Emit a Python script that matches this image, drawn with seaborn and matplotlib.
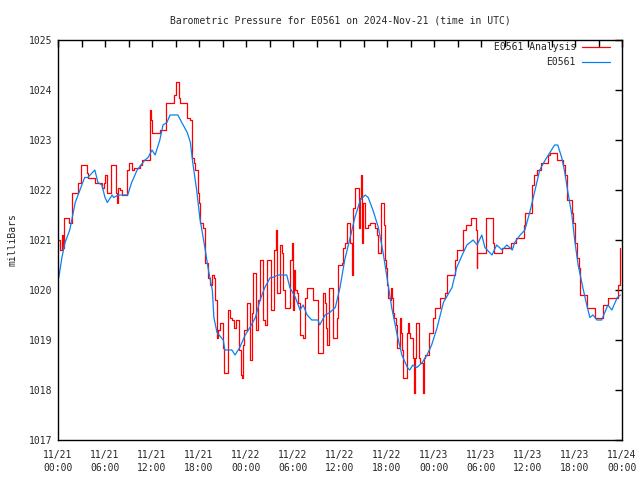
import matplotlib
matplotlib.use("Agg")
import matplotlib.pyplot as plt
import numpy as np
import pandas as pd
import seaborn as sns


TITLE = "Barometric Pressure for E0561 on 2024-Nov-21 (time in UTC)"
SERIES_NAMES = ["E0561 Analysis", "E0561"]

# hours since 2024-11-21 00:00 UTC
TICK_HOURS = [0, 6, 12, 18, 24, 30, 36, 42, 48, 54, 60, 66, 72]
TICK_LABELS = [
    "11/21\n00:00", "11/21\n06:00", "11/21\n12:00", "11/21\n18:00",
    "11/22\n00:00", "11/22\n06:00", "11/22\n12:00", "11/22\n18:00",
    "11/23\n00:00", "11/23\n06:00", "11/23\n12:00", "11/23\n18:00",
    "11/24\n00:00",
]

analysis_hours = [
    0.0, 0.2, 0.5, 0.6, 0.8, 1.2, 1.4, 1.7, 1.8, 2.4, 2.6, 2.9, 3.6, 3.7, 3.8,
    4.5, 4.7, 5.4, 5.6, 5.9, 6.0, 6.3, 6.5, 6.8, 7.3, 7.4, 7.5, 7.7, 7.9, 8.2,
    8.6, 8.8, 9.1, 9.3, 9.5, 9.7, 10.1, 10.5, 10.7, 11.5, 11.7, 11.9, 12.0,
    12.8, 13.0, 13.7, 13.8, 14.6, 14.8, 15.0, 15.3, 15.5, 15.6, 16.3, 16.5,
    16.8, 17.1, 17.3, 17.5, 17.9, 18.0, 18.1, 18.5, 18.8, 19.2, 19.4, 19.7,
    19.9, 20.0, 20.3, 20.4, 20.7, 20.9, 21.1, 21.2, 21.6, 21.7, 22.0, 22.2,
    22.5, 22.7, 23.0, 23.1, 23.4, 23.5, 23.6, 23.75, 24.0, 24.1, 24.3, 24.5,
    24.8, 24.9, 25.2, 25.3, 25.5, 25.8, 26.0, 26.2, 26.4, 26.7, 26.9, 27.2,
    27.4, 27.6, 27.8, 28.0, 28.2, 28.3, 28.6, 28.7, 29.0, 29.4, 29.6, 29.9,
    30.0, 30.1, 30.3, 30.5, 30.6, 30.9, 31.3, 31.5, 31.8, 32.4, 32.6, 33.1,
    33.2, 33.6, 33.8, 34.1, 34.2, 34.3, 34.6, 35.0, 35.1, 35.6, 35.65, 35.7,
    36.3, 36.4, 36.6, 36.9, 37.2, 37.3, 37.5, 37.7, 37.9, 38.3, 38.4, 38.5,
    38.7, 38.8, 38.9, 39.2, 39.4, 39.6, 39.8, 40.5, 40.7, 40.9, 41.1, 41.2,
    41.5, 41.6, 41.7, 41.9, 42.0, 42.1, 42.4, 42.5, 42.6, 42.8, 42.9, 43.2,
    43.3, 43.5, 43.7, 43.8, 43.9, 44.0, 44.3, 44.6, 44.7, 44.8, 44.9, 45.2,
    45.3, 45.4, 45.6, 45.7, 46.0, 46.1, 46.2, 46.5, 46.6, 46.7, 46.9, 47.2,
    47.3, 47.7, 47.9, 48.1, 48.5, 48.8, 49.2, 49.4, 49.7, 50.3, 50.7, 50.9,
    51.6, 51.7, 52.1, 52.6, 52.7, 53.2, 53.35, 53.45, 53.55, 54.5, 54.6, 55.4,
    55.5, 55.7, 56.4, 56.7, 57.7, 57.8, 58.3, 58.5, 59.35, 59.45, 59.6, 60.3,
    60.5, 60.8, 61.2, 61.7, 62.4, 62.6, 62.8, 63.4, 63.7, 64.3, 64.5, 64.7,
    65.0, 65.4, 65.6, 65.7, 66.0, 66.3, 66.5, 66.6, 67.3, 67.5, 68.3, 68.6,
    69.4, 69.6, 70.1, 70.2, 71.4, 71.5, 71.7, 71.8,
]
analysis_mb = [
    1021.0, 1020.8, 1021.1, 1020.85, 1021.45, 1021.45, 1021.35, 1021.35,
    1021.95, 1021.95, 1022.15, 1022.5, 1022.5, 1022.35, 1022.25, 1022.25,
    1022.15, 1022.15, 1022.05, 1022.15, 1022.3, 1021.95, 1021.95, 1022.5,
    1022.5, 1021.95, 1021.75, 1022.05, 1022.0, 1021.9, 1021.9, 1022.4,
    1022.55, 1022.55, 1022.4, 1022.45, 1022.45, 1022.5, 1022.6, 1022.6,
    1023.6, 1023.4, 1023.15, 1023.15, 1023.2, 1023.2, 1023.75, 1023.75,
    1023.9, 1024.15, 1024.15, 1023.85, 1023.75, 1023.75, 1023.45, 1023.4,
    1022.65, 1022.55, 1022.4, 1021.95, 1021.75, 1021.35, 1021.25, 1020.55,
    1020.25, 1020.1, 1020.3, 1020.25, 1019.8, 1019.05, 1019.2, 1019.35,
    1019.35, 1018.85, 1018.35, 1018.35, 1019.6, 1019.45, 1019.4, 1019.25,
    1019.4, 1019.4, 1018.8, 1018.3, 1018.25, 1018.9, 1019.2, 1019.2,
    1019.75, 1019.75, 1018.6, 1019.55, 1020.35, 1020.35, 1019.2, 1019.8,
    1020.6, 1020.6, 1019.4, 1019.3, 1020.6, 1020.6, 1019.6, 1019.6, 1020.8,
    1021.2, 1019.95, 1019.95, 1020.9, 1020.75, 1020.0, 1019.65, 1019.65,
    1020.6, 1020.95, 1019.6, 1020.4, 1020.0, 1019.95, 1019.75, 1019.1,
    1019.05, 1019.85, 1020.05, 1020.05, 1019.8, 1019.8, 1018.75, 1018.75,
    1019.95, 1019.75, 1019.25, 1018.9, 1020.05, 1020.05, 1019.05, 1019.05,
    1019.45, 1020.5, 1020.55, 1020.85, 1020.95, 1021.35, 1021.35, 1020.95,
    1020.3, 1021.65, 1022.05, 1022.05, 1021.25, 1021.85, 1022.3, 1020.95,
    1021.75, 1021.25, 1021.25, 1021.3, 1021.35, 1021.25, 1021.1, 1020.75,
    1020.75, 1021.75, 1021.75, 1021.3, 1020.6, 1020.45, 1020.1, 1019.85,
    1019.8, 1020.05, 1019.85, 1019.55, 1019.45, 1019.3, 1018.85, 1018.85,
    1019.45, 1019.15, 1018.8, 1018.25, 1018.25, 1019.15, 1019.35, 1019.15,
    1019.05, 1019.05, 1018.65, 1017.95, 1018.65, 1019.35, 1019.35, 1018.65,
    1018.55, 1018.55, 1017.95, 1018.65, 1018.7, 1018.7, 1019.15, 1019.15,
    1019.45, 1019.65, 1019.65, 1019.85, 1019.85, 1019.95, 1020.3, 1020.3,
    1020.6, 1020.8, 1020.8, 1021.2, 1021.3, 1021.3, 1021.45, 1021.45,
    1021.2, 1020.45, 1020.75, 1020.75, 1021.45, 1021.45, 1020.95, 1020.75,
    1020.75, 1020.85, 1020.85, 1020.95, 1020.95, 1021.05, 1021.05, 1021.3,
    1021.55, 1021.55, 1022.1, 1022.3, 1022.4, 1022.55, 1022.55, 1022.7,
    1022.75, 1022.75, 1022.6, 1022.6, 1022.5, 1022.3, 1021.8, 1021.8,
    1021.55, 1021.35, 1020.95, 1020.65, 1020.45, 1019.9, 1019.9, 1019.65,
    1019.65, 1019.45, 1019.45, 1019.7, 1019.7, 1019.85, 1019.85, 1020.1,
    1020.6, 1020.85,
]

station_hours = [
    0.1, 0.5, 0.9, 1.5, 2.2, 2.8, 3.4, 3.8, 4.1, 4.7, 5.1, 5.6, 6.0, 6.3, 6.9,
    7.1, 7.7, 8.9, 9.4, 10.1, 11.1, 11.5, 12.0, 12.4, 13.0, 13.4, 13.9, 14.3,
    15.3, 15.8, 16.5, 16.9, 17.2, 17.7, 18.1, 18.8, 19.2, 19.7, 19.9, 20.3,
    21.1, 21.3, 22.2, 22.6, 23.0, 23.2, 23.9, 24.5, 25.2, 25.8, 26.4, 27.1,
    27.4, 28.1, 29.2, 29.6, 30.3, 30.9, 31.3, 31.8, 32.4, 33.2, 33.4, 34.1,
    34.7, 35.4, 36.0, 36.6, 37.3, 37.9, 38.6, 39.2, 39.6, 40.2, 40.9, 41.5,
    42.0, 42.6, 43.3, 43.9, 44.6, 44.9, 45.3, 45.8, 46.5, 47.1, 47.7, 48.4,
    49.2, 50.3, 50.9, 51.6, 52.2, 53.0, 53.5, 54.1, 54.5, 55.4, 56.0, 56.7,
    57.3, 58.0, 58.3, 59.0, 59.6, 60.3, 60.9, 61.5, 62.2, 62.8, 63.4, 63.8,
    64.3, 64.7, 65.1, 65.6, 66.0, 66.4, 67.0, 67.5, 67.9, 68.3, 68.8, 69.4,
    69.8, 70.2, 70.7, 71.4, 71.8,
]
station_mb = [
    1020.25, 1020.65, 1020.95, 1021.2, 1021.75, 1022.0, 1022.25, 1022.25,
    1022.3, 1022.4, 1022.15, 1022.1, 1021.85, 1021.75, 1021.9, 1021.85,
    1021.9, 1021.9, 1022.15, 1022.4, 1022.6, 1022.65, 1022.8, 1022.7, 1023.0,
    1023.3, 1023.35, 1023.5, 1023.5, 1023.35, 1023.15, 1022.95, 1022.55,
    1022.0, 1021.45, 1020.8, 1020.4, 1020.0, 1019.45, 1019.15, 1019.0,
    1018.8, 1018.8, 1018.7, 1018.8, 1018.85, 1019.1, 1019.25, 1019.45,
    1019.8, 1020.05, 1020.25, 1020.25, 1020.3, 1020.3, 1020.05, 1019.85,
    1019.6, 1019.7, 1019.5, 1019.4, 1019.4, 1019.3, 1019.5, 1019.55,
    1019.65, 1020.05, 1020.6, 1021.05, 1021.45, 1021.8, 1021.9, 1021.85,
    1021.6, 1021.25, 1020.75, 1020.25, 1019.65, 1019.1, 1018.7, 1018.45,
    1018.4, 1018.5, 1018.45, 1018.55, 1018.7, 1018.9, 1019.25, 1019.75,
    1020.05, 1020.45, 1020.7, 1020.9, 1021.0, 1020.9, 1021.1, 1020.85,
    1020.7, 1020.9, 1020.8, 1020.9, 1020.8, 1020.95, 1021.1, 1021.2, 1021.6,
    1022.0, 1022.4, 1022.6, 1022.75, 1022.9, 1022.9, 1022.65, 1022.35,
    1021.95, 1021.5, 1020.95, 1020.5, 1020.05, 1019.7, 1019.45, 1019.5,
    1019.4, 1019.4, 1019.55, 1019.7, 1019.6, 1019.85, 1019.9,
]


def main():
    sns.set_theme(style="white")
    plt.rcParams["font.family"] = ["DejaVu Sans Mono"]
    plt.rcParams["font.size"] = 7

    analysis = pd.DataFrame({"hour": analysis_hours, "mb": analysis_mb})
    station = pd.DataFrame({"hour": station_hours, "mb": station_mb})

    fig = plt.figure(figsize=(6.4, 4.8), dpi=100)
    ax = fig.add_axes([58 / 640, 40 / 480, 564 / 640, 400 / 480])

    # analysis values are quantised, so draw them as steps like the original
    sns.lineplot(data=analysis, x="hour", y="mb", ax=ax, color="#ff0000",
                 lw=0.9, estimator=None, sort=False, drawstyle="steps-post",
                 label=SERIES_NAMES[0])
    sns.lineplot(data=station, x="hour", y="mb", ax=ax, color="#0a80f0",
                 lw=0.9, estimator=None, sort=False, label=SERIES_NAMES[1])

    ax.set_xlim(0, 72)
    ax.set_ylim(1017, 1025)
    ax.set_xticks(TICK_HOURS)
    ax.set_xticklabels(TICK_LABELS)
    ax.set_xticks(np.arange(3, 72, 6), minor=True)
    ax.set_yticks(range(1017, 1026))
    for t in ax.get_xticklabels():
        t.set_linespacing(1.45)

    ax.tick_params(axis="both", which="both", direction="in", length=5,
                   width=1, color="black", top=True, right=True,
                   labelsize=7, pad=4)
    ax.tick_params(axis="x", which="major", pad=7)
    for side in ax.spines.values():
        side.set_color("black")
        side.set_linewidth(1)

    ax.set_xlabel("")
    ax.set_ylabel("milliBars", fontsize=7, labelpad=8)
    ax.set_title(TITLE, fontsize=7, pad=12)

    ax.legend(loc="upper right", bbox_to_anchor=(1 - 12 / 564, 1 - 2 / 400),
              frameon=False, markerfirst=False, borderpad=0, borderaxespad=0,
              handlelength=2.9, handletextpad=0.6, labelspacing=0.55,
              fontsize=7)

    fig.savefig("out.png", dpi=100)
    plt.close(fig)


if __name__ == "__main__":
    main()
